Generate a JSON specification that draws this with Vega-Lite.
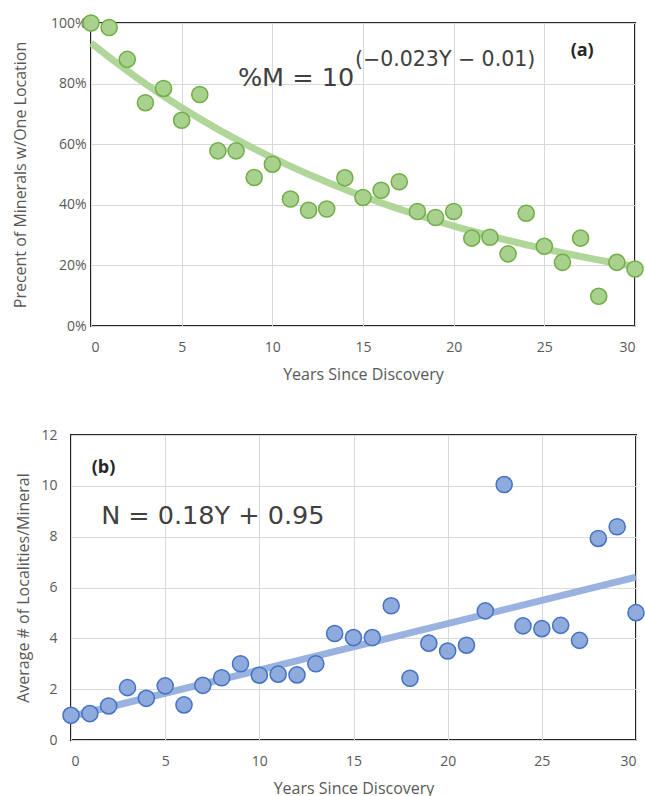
{
  "$schema": "https://vega.github.io/schema/vega-lite/v6.json",
  "background": "white",
  "padding": {"left": 11, "top": 10, "right": 2, "bottom": 0},
  "spacing": 44,
  "config": {
    "font": "Open Sans",
    "view": {"stroke": "#262626", "strokeWidth": 2},
    "axis": {
      "grid": true,
      "gridColor": "#d9d9d9",
      "gridWidth": 1,
      "domain": false,
      "ticks": false,
      "labelColor": "#595959",
      "labelFontSize": 14,
      "labelFont": "Open Sans",
      "titleColor": "#595959",
      "titleFontSize": 16,
      "titleFontWeight": "normal",
      "titleFont": "Open Sans"
    }
  },
  "datasets": {
    "single_locality": [
      {"years": 0, "share": 1.0},
      {"years": 1, "share": 0.985},
      {"years": 2, "share": 0.88},
      {"years": 3, "share": 0.737},
      {"years": 4, "share": 0.784},
      {"years": 5, "share": 0.679},
      {"years": 6, "share": 0.764},
      {"years": 7, "share": 0.578},
      {"years": 8, "share": 0.578},
      {"years": 9, "share": 0.49},
      {"years": 10, "share": 0.534},
      {"years": 11, "share": 0.419},
      {"years": 12, "share": 0.382},
      {"years": 13, "share": 0.386},
      {"years": 14, "share": 0.489},
      {"years": 15, "share": 0.424},
      {"years": 16, "share": 0.448},
      {"years": 17, "share": 0.476},
      {"years": 18, "share": 0.378},
      {"years": 19, "share": 0.358},
      {"years": 20, "share": 0.378},
      {"years": 21, "share": 0.29},
      {"years": 22, "share": 0.293},
      {"years": 23, "share": 0.238},
      {"years": 24, "share": 0.372},
      {"years": 25, "share": 0.263},
      {"years": 26, "share": 0.21},
      {"years": 27, "share": 0.29},
      {"years": 28, "share": 0.098},
      {"years": 29, "share": 0.21},
      {"years": 30, "share": 0.188}
    ],
    "localities": [
      {"years": 0, "localities": 0.97},
      {"years": 1, "localities": 1.04},
      {"years": 2, "localities": 1.34},
      {"years": 3, "localities": 2.06},
      {"years": 4, "localities": 1.64},
      {"years": 5, "localities": 2.13},
      {"years": 6, "localities": 1.38},
      {"years": 7, "localities": 2.15},
      {"years": 8, "localities": 2.45},
      {"years": 9, "localities": 3.0},
      {"years": 10, "localities": 2.55},
      {"years": 11, "localities": 2.59},
      {"years": 12, "localities": 2.56},
      {"years": 13, "localities": 3.0},
      {"years": 14, "localities": 4.19},
      {"years": 15, "localities": 4.03},
      {"years": 16, "localities": 4.03},
      {"years": 17, "localities": 5.28},
      {"years": 18, "localities": 2.43},
      {"years": 19, "localities": 3.81},
      {"years": 20, "localities": 3.5},
      {"years": 21, "localities": 3.73},
      {"years": 22, "localities": 5.08},
      {"years": 23, "localities": 10.05},
      {"years": 24, "localities": 4.49},
      {"years": 25, "localities": 4.38},
      {"years": 26, "localities": 4.51},
      {"years": 27, "localities": 3.92},
      {"years": 28, "localities": 7.93},
      {"years": 29, "localities": 8.39},
      {"years": 30, "localities": 5.01}
    ]
  },
  "vconcat": [
    {
      "spacing": -61,
      "hconcat": [
        {
          "width": 1,
          "height": 1,
          "view": {"stroke": null},
          "data": {"values": []},
          "mark": {"type": "point", "opacity": 0}
        },
        {
          "width": 544,
          "height": 303,
          "data": {"name": "single_locality"},
          "encoding": {
            "x": {
              "field": "years",
              "type": "quantitative",
              "title": "Years Since Discovery",
              "scale": {"domain": [0, 30], "nice": false},
              "axis": {"values": [0, 5, 10, 15, 20, 25, 30], "labelPadding": 14, "titlePadding": 12}
            },
            "y": {
              "field": "share",
              "type": "quantitative",
              "title": "Precent of Minerals w/One Location",
              "scale": {"domain": [0, 1], "nice": false},
              "axis": {"values": [0, 0.2, 0.4, 0.6, 0.8, 1], "format": ".0%", "labelPadding": 5, "titlePadding": 22}
            }
          },
          "layer": [
            {
              "transform": [
                {"regression": "share", "on": "years", "method": "exp", "extent": [0, 30]}
              ],
              "mark": {"type": "line", "color": "#a9d18e", "strokeWidth": 7, "opacity": 0.9, "strokeCap": "butt"}
            },
            {
              "mark": {"type": "circle", "size": 260, "fill": "#a9d18e", "stroke": "#70ad47", "strokeWidth": 1.5, "opacity": 1}
            },
            {
              "transform": [{"filter": "datum.years == 0"}],
              "mark": {"type": "text", "font": "DejaVu Sans", "fontSize": 25.5, "align": "left", "baseline": "alphabetic", "color": "#404040"},
              "encoding": {
                "x": {"datum": 8.1},
                "y": {"datum": 0.792},
                "text": {"value": "%M = 10"}
              }
            },
            {
              "transform": [{"filter": "datum.years == 0"}],
              "mark": {"type": "text", "font": "DejaVu Sans", "fontSize": 20.5, "align": "left", "baseline": "alphabetic", "color": "#404040"},
              "encoding": {
                "x": {"datum": 14.56},
                "y": {"datum": 0.858},
                "text": {"value": "(−0.023Y − 0.01)"}
              }
            },
            {
              "transform": [{"filter": "datum.years == 0"}],
              "mark": {"type": "text", "font": "Open Sans", "fontSize": 18, "fontWeight": "bold", "align": "left", "baseline": "alphabetic", "color": "#262626"},
              "encoding": {
                "x": {"datum": 26.45},
                "y": {"datum": 0.891},
                "text": {"value": "(a)"}
              }
            }
          ]
        }
      ]
    },
    {
      "hconcat": [
        {
          "width": 565,
          "height": 305,
          "data": {"name": "localities"},
          "encoding": {
            "x": {
              "field": "years",
              "type": "quantitative",
              "title": "Years Since Discovery",
              "scale": {"domain": [0, 30], "nice": false},
              "axis": {"values": [0, 5, 10, 15, 20, 25, 30], "labelPadding": 14, "titlePadding": 12}
            },
            "y": {
              "field": "localities",
              "type": "quantitative",
              "title": "Average # of Localities/Mineral",
              "scale": {"domain": [0, 12], "nice": false},
              "axis": {"values": [0, 2, 4, 6, 8, 10, 12], "labelPadding": 14, "titlePadding": 9}
            }
          },
          "layer": [
            {
              "transform": [
                {"regression": "localities", "on": "years", "method": "linear", "extent": [0, 30]}
              ],
              "mark": {"type": "line", "color": "#8faadc", "strokeWidth": 7, "opacity": 0.9, "strokeCap": "butt"}
            },
            {
              "mark": {"type": "circle", "size": 260, "fill": "#8faadc", "stroke": "#4472c4", "strokeWidth": 1.5, "opacity": 1}
            },
            {
              "transform": [{"filter": "datum.years == 0"}],
              "mark": {"type": "text", "font": "DejaVu Sans", "fontSize": 25.5, "align": "left", "baseline": "alphabetic", "color": "#404040"},
              "encoding": {
                "x": {"datum": 1.6},
                "y": {"datum": 8.5},
                "text": {"value": "N = 0.18Y + 0.95"}
              }
            },
            {
              "transform": [{"filter": "datum.years == 0"}],
              "mark": {"type": "text", "font": "Open Sans", "fontSize": 18, "fontWeight": "bold", "align": "left", "baseline": "alphabetic", "color": "#262626"},
              "encoding": {
                "x": {"datum": 1.1},
                "y": {"datum": 10.5},
                "text": {"value": "(b)"}
              }
            }
          ]
        }
      ]
    }
  ]
}
